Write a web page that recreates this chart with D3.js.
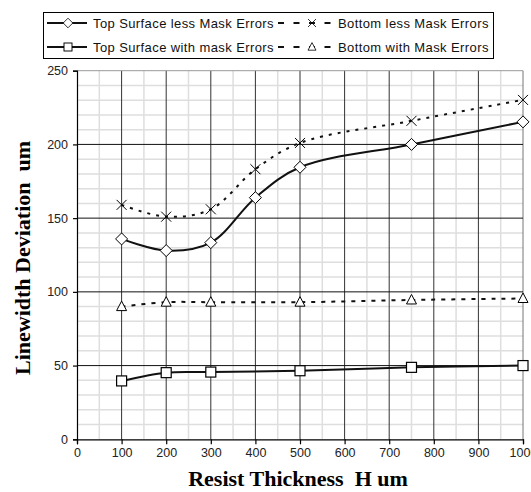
<!DOCTYPE html>
<html><head><meta charset="utf-8">
<script src="https://cdn.jsdelivr.net/npm/d3@7"></script>
<style>body{margin:0;background:#fff}svg{display:block}</style>
</head><body>
<script>
const xTicks = [0,100,200,300,400,500,600,700,800,900,1000];
const yTicks = [0,50,100,150,200,250];
const topLessX = [100,200,300,400,500,750,1000];
const topLessY = [135.9,128,133.4,163.9,184.5,200,215.3];
const topWithX = [100,200,300,500,750,1000];
const topWithY = [39.6,45.2,45.6,46.5,48.8,50];
const botLessX = [100,200,300,400,500,750,1000];
const botLessY = [159,151,156,183.2,201,216,230.2];
const botWithX = [100,200,300,500,750,1000];
const botWithY = [90,93,93,93,94.5,95.5];
const seriesNames = ["Top Surface less Mask Errors","Top Surface with mask Errors","Bottom less Mask Errors","Bottom with Mask Errors"];

const W=531,H=492;
const svg=d3.select("body").append("svg").attr("width",W).attr("height",H);
const x=d3.scaleLinear().domain([0,1000]).range([77,523]);
const y=d3.scaleLinear().domain([0,250]).range([439.3,70.7]);

const g=svg.append("g");
// minor grid
g.selectAll(".mx").data(d3.range(50,1001,100)).enter().append("line")
 .attr("x1",d=>x(d)).attr("x2",d=>x(d)).attr("y1",y(0)).attr("y2",y(250))
 .attr("stroke","#dedede").attr("stroke-width",1.5);
g.selectAll(".my").data(d3.range(10,250,10).filter(d=>d%50)).enter().append("line")
 .attr("x1",x(0)).attr("x2",x(1000)).attr("y1",d=>y(d)).attr("y2",d=>y(d))
 .attr("stroke","#dedede").attr("stroke-width",1.5);
// major grid
g.selectAll(".Mx").data(xTicks.slice(1)).enter().append("line")
 .attr("x1",d=>x(d)).attr("x2",d=>x(d)).attr("y1",y(0)).attr("y2",y(250))
 .attr("stroke",d=>d===1000?"#777":"#333").attr("stroke-width",1);
g.selectAll(".My").data(yTicks.slice(1)).enter().append("line")
 .attr("x1",x(0)).attr("x2",x(1000)).attr("y1",d=>y(d)).attr("y2",d=>y(d))
 .attr("stroke",d=>d===250?"#999":"#111").attr("stroke-width",1);

// axes
const xa=svg.append("g").attr("transform",`translate(0,${y(0)})`)
 .call(d3.axisBottom(x).tickValues(xTicks).tickSize(5).tickPadding(4).tickFormat(d3.format("d")));
const ya=svg.append("g").attr("transform",`translate(${x(0)},0)`)
 .call(d3.axisLeft(y).tickValues(yTicks).tickSize(4).tickPadding(5).tickFormat(d3.format("d")));
[xa,ya].forEach(a=>{a.selectAll("path,line").attr("stroke","#000").attr("stroke-width",1.2);
 a.selectAll("text").attr("font-family","Liberation Sans, Arial, sans-serif").attr("font-size",12.5).attr("fill","#222");});

// axis titles
svg.append("text").attr("x",298).attr("y",486).attr("text-anchor","middle")
 .style("white-space","pre")
 .attr("font-family","Liberation Serif, Times New Roman, serif").attr("font-weight","bold").attr("font-size",22)
 .text("Resist Thickness  H um");
svg.append("text").attr("transform",`translate(30,258) rotate(-90)`).attr("text-anchor","middle")
 .style("white-space","pre")
 .attr("font-family","Liberation Serif, Times New Roman, serif").attr("font-weight","bold").attr("font-size",22)
 .text("Linewidth Deviation  um");

// markers
function marker(sel,type){
  if(type==="diamond") sel.append("path").attr("d","M0,-6L6,0L0,6L-6,0Z").attr("fill","#fff").attr("stroke","#000").attr("stroke-width",1);
  if(type==="square") sel.append("rect").attr("x",-5).attr("y",-5).attr("width",10).attr("height",10).attr("fill","#fff").attr("stroke","#000").attr("stroke-width",1.2);
  if(type==="cross") sel.append("path").attr("d","M-5,-5L5,5M-5,5L5,-5").attr("fill","none").attr("stroke","#000").attr("stroke-width",1);
  if(type==="tri") sel.append("path").attr("d","M0,-5.5L5,4L-5,4Z").attr("fill","#fff").attr("stroke","#000").attr("stroke-width",1);
}
const series=[
 {xs:topLessX,ys:topLessY,m:"diamond",dash:null},
 {xs:topWithX,ys:topWithY,m:"square",dash:null},
 {xs:botLessX,ys:botLessY,m:"cross",dash:"3,6"},
 {xs:botWithX,ys:botWithY,m:"tri",dash:"4,6"}
];
const line=d3.line().x(d=>x(d[0])).y(d=>y(d[1])).curve(d3.curveCatmullRom.alpha(0.5));
series.forEach(s=>{
  const pts=s.xs.map((v,i)=>[v,s.ys[i]]);
  svg.append("path").attr("d",line(pts)).attr("fill","none").attr("stroke","#111")
   .attr("stroke-width",2).attr("stroke-dasharray",s.dash);
  pts.forEach(p=>{const mg=svg.append("g").attr("transform",`translate(${x(p[0])},${y(p[1])})`);marker(mg,s.m);});
});

// legend
const lg=svg.append("g");
lg.append("rect").attr("x",43.5).attr("y",12.5).attr("width",450).attr("height",46).attr("fill","#fff").attr("stroke","#000").attr("stroke-width",1);
const legPos=[[47,23,0],[47,47,1],[278,23,2],[278,47,3]];
legPos.forEach(([lx,ly,i])=>{
  const s=series[i];
  const len=s.dash?55:40;
  lg.append("line").attr("x1",lx).attr("x2",lx+len).attr("y1",ly).attr("y2",ly).attr("stroke","#111").attr("stroke-width",2)
    .attr("stroke-dasharray",s.dash?"6,9.5":null);
  const mx=lx+(s.dash?34:21);
  const mg=lg.append("g").attr("transform",`translate(${mx},${ly}) scale(0.8)`);
  marker(mg,s.m);
  lg.append("text").attr("x",lx+(s.dash?60:46)).attr("y",ly).attr("dy","0.35em")
    .attr("font-family","Liberation Sans, Arial, sans-serif").attr("font-size",13).attr("letter-spacing",0.4).attr("fill","#111")
    .text(seriesNames[i]);
});
</script>
</body></html>
